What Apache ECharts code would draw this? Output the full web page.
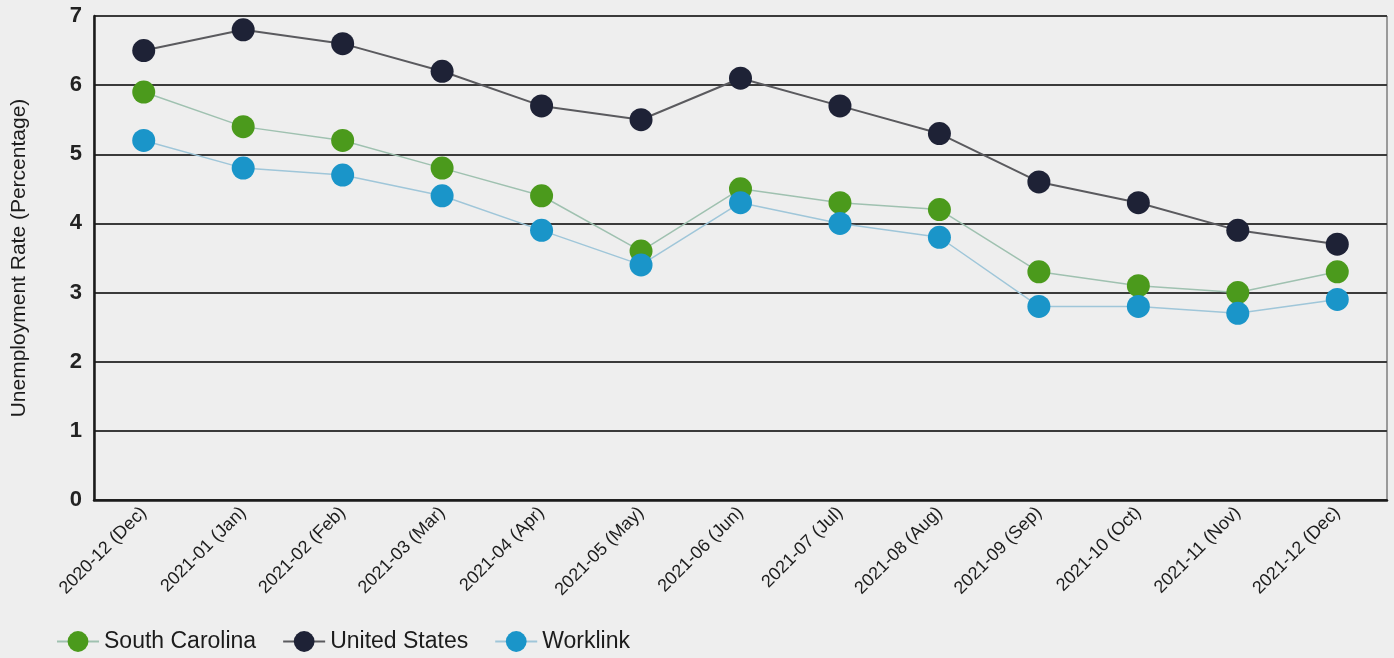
<!DOCTYPE html>
<html><head><meta charset="utf-8">
<script src="https://cdn.jsdelivr.net/npm/echarts@6/dist/echarts.min.js"></script>
<style>html,body{margin:0;padding:0;background:#eeeeee}#c{width:1394px;height:658px}</style>
</head><body><div id="c"></div>
<script>
const categories = ['2020-12 (Dec)','2021-01 (Jan)','2021-02 (Feb)','2021-03 (Mar)','2021-04 (Apr)','2021-05 (May)','2021-06 (Jun)','2021-07 (Jul)','2021-08 (Aug)','2021-09 (Sep)','2021-10 (Oct)','2021-11 (Nov)','2021-12 (Dec)'];
const southCarolina = [5.9, 5.4, 5.2, 4.8, 4.4, 3.6, 4.5, 4.3, 4.2, 3.3, 3.1, 3.0, 3.3];
const unitedStates = [6.5, 6.8, 6.6, 6.2, 5.7, 5.5, 6.1, 5.7, 5.3, 4.6, 4.3, 3.9, 3.7];
const worklink = [5.2, 4.8, 4.7, 4.4, 3.9, 3.4, 4.3, 4.0, 3.8, 2.8, 2.8, 2.7, 2.9];
const yTicks = [0, 1, 2, 3, 4, 5, 6, 7];

const chart = echarts.init(document.getElementById('c'));
const font = 'Liberation Sans, Arial, sans-serif';
function s(name, data, color, lineColor, lineWidth, z) {
  return {
    name, type: 'line', data, z,
    symbol: 'circle', symbolSize: 23,
    itemStyle: { color },
    lineStyle: { color: lineColor, width: lineWidth },
    emphasis: { disabled: true }
  };
}
chart.setOption({
  backgroundColor: '#eeeeee',
  animation: false,
  grid: { left: 94, right: 7, top: 16, bottom: 158, outerBoundsMode: 'none', containLabel: false,
          show: true, borderColor: '#444', borderWidth: 1, backgroundColor: 'transparent' },
  legend: {
    left: 51, bottom: 0, itemWidth: 42, itemHeight: 26, itemGap: 26,
    textStyle: { fontFamily: font, fontSize: 23, color: '#1c1c1c' },
    data: ['South Carolina', 'United States', 'Worklink']
  },
  xAxis: {
    type: 'category', data: categories, boundaryGap: true,
    axisLine: { show: true, lineStyle: { color: '#1a1a1a', width: 2.5 } },
    axisTick: { show: false },
    axisLabel: { rotate: 45, fontFamily: font, fontSize: 18, color: '#1c1c1c', margin: 10, interval: 0 }
  },
  yAxis: {
    type: 'value', min: 0, max: 7, interval: 1,
    name: 'Unemployment Rate (Percentage)', nameLocation: 'middle', nameGap: 64,
    nameTextStyle: { fontFamily: font, fontSize: 21, color: '#1c1c1c' },
    axisLine: { show: true, lineStyle: { color: '#1a1a1a', width: 2.5 } },
    axisTick: { show: false },
    axisLabel: { fontFamily: font, fontSize: 22, color: '#222', margin: 12, fontWeight: 'bold' },
    splitLine: { lineStyle: { color: '#3a3a3a', width: 2 } }
  },
  series: [
    s('South Carolina', southCarolina, '#4b9a1c', '#9fc1b0', 1.5, 3),
    s('United States', unitedStates, '#1e2236', '#5a5a5e', 2, 2),
    s('Worklink', worklink, '#1a95c9', '#9fc6d9', 1.5, 4)
  ]
});
</script></body></html>
